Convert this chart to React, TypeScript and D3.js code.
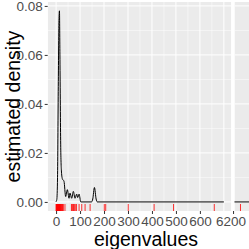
import React, { useEffect, useRef } from 'react'
import * as d3 from 'd3'

// density estimate (value, density)
const densityX = [-1, 3, 6, 9, 12, 14, 16, 19, 22, 26, 33, 40, 47, 54, 58, 65, 72, 79, 86, 90, 96, 103, 148, 153, 160, 167, 172, 700]
const densityY = [0, 0.001, 0.01, 0.045, 0.074, 0.078, 0.06, 0.025, 0.013, 0.0095, 0.0084, 0.0022, 0.005, 0.0015, 0.0036, 0.0015, 0.0043, 0.0015, 0.0032, 0.0018, 0.0032, 0, 0, 0.0012, 0.0059, 0.0012, 0, 0]
const densityRightX = [6200, 6360]
const densityRightY = [0, 0]

// eigenvalues (rug)
const eigenvalues = [0, 1, 2, 3, 4, 5, 6, 7, 8, 9, 10, 11, 12, 13, 14, 15, 16, 17, 18, 20, 22, 24, 26, 28, 30, 37, 64, 67, 70, 73, 76, 80, 85, 96, 107, 121, 142, 201, 207, 301, 409, 490, 660, 6231]

const xTicksLeft = [0, 100, 200, 300, 400, 500, 600]
const xGridLeft = [0, 100, 200, 300, 400, 500, 600, 700]
const xMinorLeft = [50, 150, 250, 350, 450, 550, 650]
const xTicksRight = [6200]
const yTicks = [0, 0.02, 0.04, 0.06, 0.08]
const yMinor = [0.01, 0.03, 0.05, 0.07]

const font = 'Liberation Sans, Arial, sans-serif'

const App = () => {
    const ref = useRef<SVGSVGElement>(null)

    useEffect(() => {
        const svg = d3.select(ref.current)
        svg.selectAll('*').remove()

        const top = 2
        const bottom = 211
        const left = 47.7
        const leftEnd = 231.3
        const rightStart = 234.5
        const rightEnd = 270

        const x1 = d3.scaleLinear().domain([-35, 731]).range([left, leftEnd])
        const x2 = d3.scaleLinear().domain([6206, 6354]).range([rightStart, rightEnd])
        const y = d3.scaleLinear().domain([-0.0037, 0.0816]).range([bottom, top])

        const panels = [
            { x: x1, x0: left, x1: leftEnd, grid: xGridLeft, minor: xMinorLeft, ticks: xTicksLeft, dx: densityX, dy: densityY, id: 'p1', shift: 0 },
            { x: x2, x0: rightStart, x1: rightEnd, grid: [], minor: [], ticks: xTicksRight, dx: densityRightX, dy: densityRightY, id: 'p2', shift: -2.5 }
        ]

        panels.forEach(p => {
            svg.append('clipPath').attr('id', p.id)
                .append('rect').attr('x', p.x0).attr('y', top)
                .attr('width', p.x1 - p.x0).attr('height', bottom - top)

            const g = svg.append('g').attr('clip-path', `url(#${p.id})`)
            g.append('rect').attr('x', p.x0).attr('y', top)
                .attr('width', p.x1 - p.x0).attr('height', bottom - top)
                .attr('fill', '#EBEBEB')

            g.selectAll('.ymin').data(yMinor).join('line')
                .attr('x1', p.x0).attr('x2', p.x1)
                .attr('y1', d => y(d)).attr('y2', d => y(d))
                .attr('stroke', '#fff').attr('stroke-width', 0.5)
            g.selectAll('.xmin').data(p.minor).join('line')
                .attr('y1', top).attr('y2', bottom)
                .attr('x1', d => p.x(d)).attr('x2', d => p.x(d))
                .attr('stroke', '#fff').attr('stroke-width', 0.5)
            g.selectAll('.ymaj').data(yTicks).join('line')
                .attr('x1', p.x0).attr('x2', p.x1)
                .attr('y1', d => y(d)).attr('y2', d => y(d))
                .attr('stroke', '#fff').attr('stroke-width', 1)
            g.selectAll('.xmaj').data(p.grid).join('line')
                .attr('y1', top).attr('y2', bottom)
                .attr('x1', d => p.x(d)).attr('x2', d => p.x(d))
                .attr('stroke', '#fff').attr('stroke-width', 1)

            const line = d3.line<number>()
                .x((d, i) => p.x(p.dx[i]))
                .y(d => y(d))
                .curve(d3.curveMonotoneX)
            g.append('path').datum(p.dy)
                .attr('d', line)
                .attr('fill', 'none')
                .attr('stroke', '#000')
                .attr('stroke-width', 1)

            g.selectAll('.rug').data(eigenvalues).join('line')
                .attr('x1', d => p.x(d)).attr('x2', d => p.x(d))
                .attr('y1', bottom).attr('y2', bottom - 7)
                .attr('stroke', 'red').attr('stroke-width', 0.8)

            const ax = svg.append('g')
                .attr('transform', `translate(0,${bottom})`)
                .call(d3.axisBottom(p.x).tickValues(p.ticks).tickSize(3).tickPadding(2).tickFormat(d3.format('d')))
            ax.select('.domain').remove()
            ax.selectAll('line').attr('stroke', '#333')
            ax.selectAll('text').attr('fill', '#4D4D4D').attr('font-size', 13.5)
                .attr('font-family', font).attr('dx', p.shift)
        })

        const ay = svg.append('g')
            .attr('transform', `translate(${left},0)`)
            .call(d3.axisLeft(y).tickValues(yTicks).tickSize(3).tickPadding(2).tickFormat(d3.format('.2f')))
        ay.select('.domain').remove()
        ay.selectAll('line').attr('stroke', '#333')
        ay.selectAll('text').attr('fill', '#4D4D4D').attr('font-size', 13.5)
            .attr('font-family', font)

        svg.append('text')
            .attr('x', 146).attr('y', 246)
            .attr('text-anchor', 'middle')
            .attr('font-family', font)
            .attr('font-size', 19.5)
            .attr('fill', '#000')
            .text('eigenvalues')

        svg.append('text')
            .attr('transform', `translate(20,${(top + bottom) / 2}) rotate(-90)`)
            .attr('text-anchor', 'middle')
            .attr('font-family', font)
            .attr('font-size', 19.5)
            .attr('fill', '#000')
            .text('estimated density')
    }, [])

    return (
        <svg ref={ref} width={249} height={249}
            style={{ position: 'absolute', left: 0, top: 0, background: '#fff' }} />
    )
}

export default App
